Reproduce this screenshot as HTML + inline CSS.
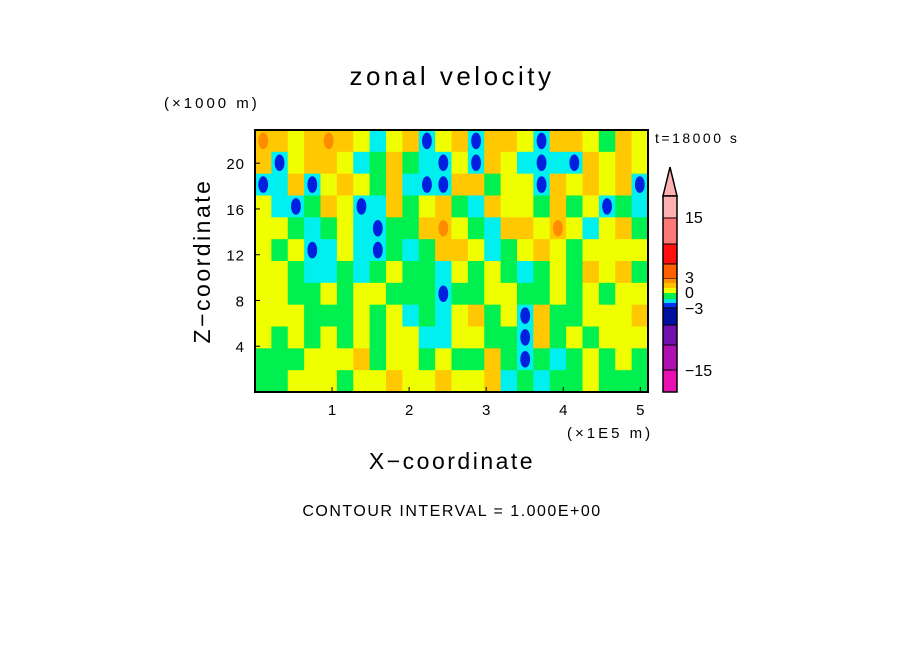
<!DOCTYPE html>
<html><head><meta charset="utf-8"><style>
body{margin:0;background:#fff;width:904px;height:654px;overflow:hidden}
svg text{font-family:"Liberation Sans",sans-serif;fill:#000}
</style></head><body>
<svg id="chart" width="904" height="654" xmlns="http://www.w3.org/2000/svg">
<text x="452" y="85" font-size="26" text-anchor="middle" letter-spacing="3.5">zonal velocity</text>
<text x="164" y="108" font-size="15" letter-spacing="3">(×1000 m)</text>
<text x="655" y="143" font-size="14" letter-spacing="2.5">t=18000 s</text>
<text x="567" y="438" font-size="15" letter-spacing="3">(×1E5 m)</text>
<text x="452" y="469" font-size="23" text-anchor="middle" letter-spacing="2.5">X−coordinate</text>
<text transform="translate(210,261) rotate(-90)" font-size="23" text-anchor="middle" letter-spacing="2.5">Z−coordinate</text>
<text x="452" y="516" font-size="16" text-anchor="middle" letter-spacing="1.5">CONTOUR INTERVAL = 1.000E+00</text>
<g id="field"></g>
<g id="axes"></g>
<g id="cbar"></g>
</svg>
<script>
const xTicks=[1,2,3,4,5];
const zTicks=[4,8,12,16,20];
const xMax=5.1, zMax=22.9;
const palette=["#00f050","#f0ff00","#ffc800","#ff8c00","#00f0f0","#0020e0"];
const grid=[
[3,2,1,2,3,2,1,4,1,2,5,1,2,5,2,2,1,5,2,2,1,0,2,1],
[2,5,1,2,2,1,4,0,2,0,4,5,1,5,2,1,4,5,4,5,2,1,2,1],
[5,4,2,5,1,2,1,0,2,4,5,5,2,2,0,1,1,5,2,1,2,1,2,5],
[1,4,5,0,2,1,5,4,2,0,1,2,0,4,2,1,1,0,2,0,1,5,0,4],
[1,1,0,4,0,1,4,5,0,0,2,3,1,0,4,2,2,1,3,1,4,1,2,0],
[1,0,1,5,4,1,4,5,0,4,0,2,2,1,4,0,1,2,1,0,1,1,1,1],
[1,1,0,4,4,0,4,0,1,0,0,4,1,0,1,0,4,0,1,0,2,1,2,0],
[1,1,0,0,1,0,1,1,0,0,0,5,0,0,1,1,0,0,1,0,1,0,1,1],
[1,1,1,0,0,0,1,0,1,4,0,4,1,2,0,1,5,2,0,0,1,1,1,2],
[1,0,1,0,1,0,1,0,1,1,4,4,1,1,0,0,5,2,0,1,0,1,1,1],
[0,0,0,1,1,1,2,0,1,1,0,1,0,0,2,0,5,0,4,0,1,0,1,0],
[0,0,1,1,1,0,1,1,2,1,1,2,1,1,2,4,0,4,0,0,1,0,0,0]];
const cbColors=["#ffb0b0","#ff7878","#ff1010","#ff6000","#ff9000","#ffc000","#f0ff00","#00f050","#00e0e0","#0030f0","#0010a0","#7010b0","#b010b0","#e810b0"];
const cbBounds=[196,218,244,264,279,283,288,293,299,303,308,325,345,370,392];
const cbLabels=["15","3","0","−3","−15"];
const cbLabelY=[223,283,298,314,376];
const L=255,R=648,T=130,B=392;
const sx=v=>L+(R-L)*v/xMax, sz=v=>B-(B-T)*v/zMax;
const NS="http://www.w3.org/2000/svg";
function mk(t,a,p){const e=document.createElementNS(NS,t);for(const k in a)e.setAttribute(k,a[k]);p.appendChild(e);return e;}
const field=document.getElementById('field');
const nr=grid.length,nc=grid[0].length,cw=(R-L)/nc,ch=(B-T)/nr;
grid.forEach((row,i)=>row.forEach((v,j)=>{
 const x=L+j*cw,y=T+i*ch;
 const r=mk('rect',{x:x,y:y,width:cw+0.5,height:ch+0.5,fill:v===5?palette[4]:palette[v]},field);
 
 
 if(v===5||v===3){
  const base=v===5?palette[4]:palette[2];
  r.setAttribute('fill',base);
  const c=mk('ellipse',{cx:x+cw/2,cy:y+ch/2,rx:cw*0.3,ry:ch*0.38,fill:palette[v]},field);
  
  
 }
}));
const ax=document.getElementById('axes');
const fr=mk('rect',{x:L,y:T,width:R-L,height:B-T,fill:"none",stroke:"#000","stroke-width":2},ax);


xTicks.forEach(v=>{
 mk('line',{x1:sx(v),x2:sx(v),y1:B,y2:B-5,stroke:"#000"},ax);
 const t=mk('text',{x:sx(v),y:B+23,"font-size":15,"text-anchor":"middle"},ax);t.textContent=v;
 
 
});
zTicks.forEach(v=>{
 mk('line',{x1:L,x2:L+5,y1:sz(v),y2:sz(v),stroke:"#000"},ax);
 const t=mk('text',{x:L-10,y:sz(v)+6,"font-size":15,"text-anchor":"end","letter-spacing":1},ax);t.textContent=v;
 
 
});
const cb=document.getElementById('cbar');
const tri=mk('polygon',{points:"663,196 677,196 670,167",fill:"#ffb0b0",stroke:"#000","stroke-width":1.5},cb);


cbColors.forEach((c,i)=>{
 const r=mk('rect',{x:663,y:cbBounds[i],width:14,height:cbBounds[i+1]-cbBounds[i],fill:c,stroke:"#000","stroke-width":(cbBounds[i+1]-cbBounds[i]>8?1:0)},cb);
 
 
});
mk('rect',{x:663,y:196,width:14,height:196,fill:"none",stroke:"#000","stroke-width":1.5},cb);
cbLabels.forEach((s,i)=>{
 const t=mk('text',{x:685,y:cbLabelY[i],"font-size":16},cb);t.textContent=s;
 
 
});
</script>
</body></html>
